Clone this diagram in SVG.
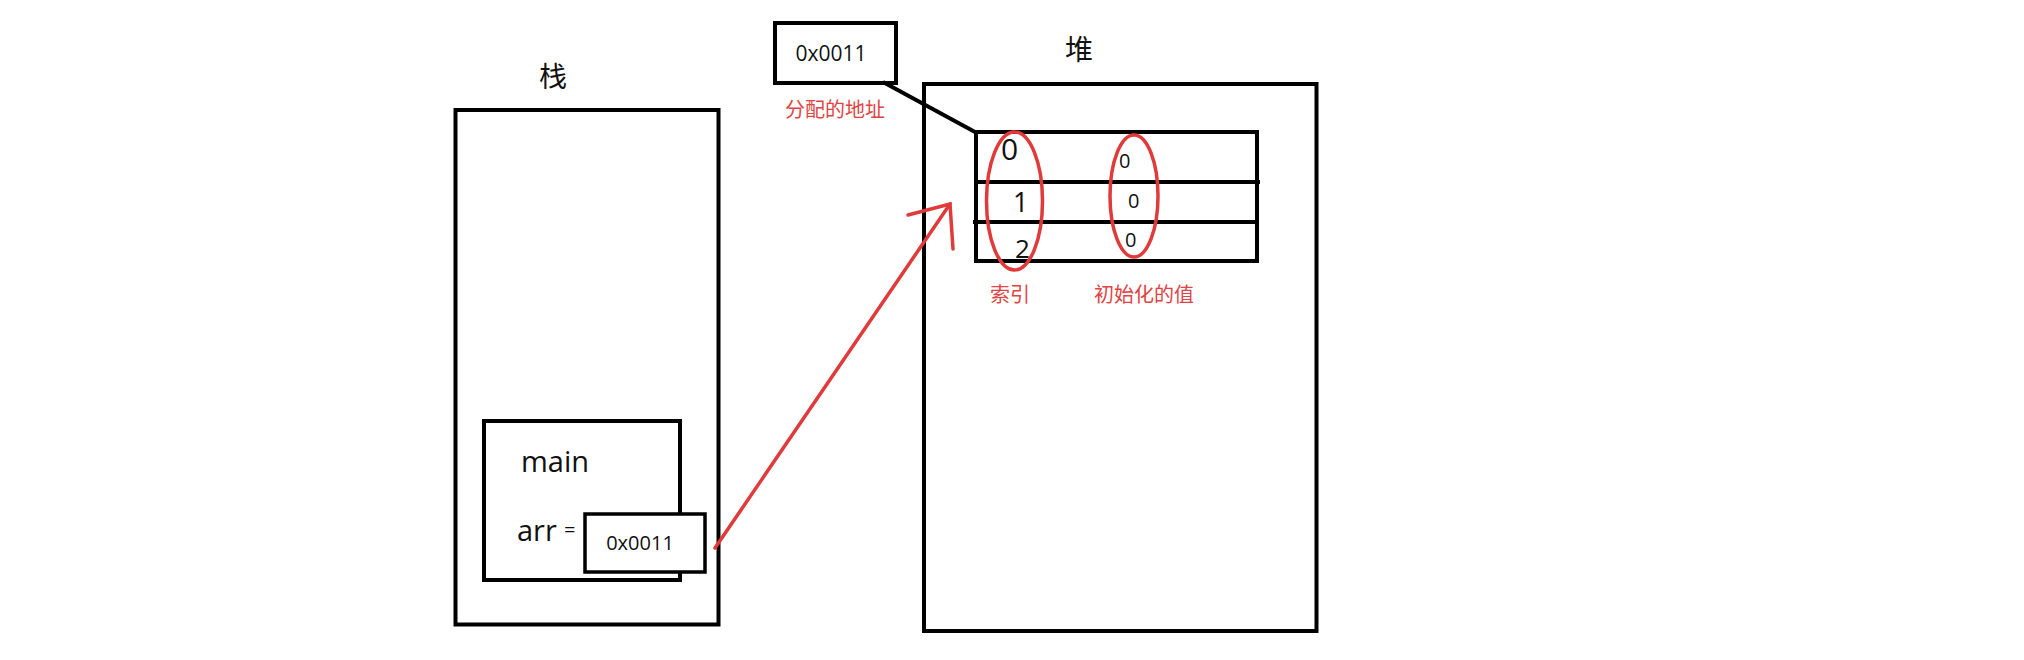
<svg xmlns="http://www.w3.org/2000/svg" width="2024" height="660" viewBox="0 0 2024 660">
<style>
.box{fill:none;stroke:#000;stroke-width:4}
.wbox{fill:#fff;stroke:#000;stroke-width:3.5}
.t{font-family:"Open Sans","Noto Sans",sans-serif;fill:#111}
.cjk{font-family:"Noto Sans CJK SC","Microsoft YaHei",sans-serif;fill:#111}
.red{font-family:"Noto Sans CJK SC",sans-serif;fill:#e04444}
.rs{fill:none;stroke:#e03a3a;stroke-width:3.5;stroke-linecap:round}
</style>
<rect width="2024" height="660" fill="#fff"/>
<g id="stack">
<rect class="box" x="455.5" y="110" width="263" height="514.5"/>
<text class="cjk" x="553" y="87" font-size="28" text-anchor="middle">栈</text>
</g>
<g id="main">
<rect class="box" x="484" y="421" width="196" height="159"/>
<text class="t" x="521" y="472" font-size="29">main</text>
<text class="t" x="517" y="541" font-size="29">arr</text>
<text class="t" x="564" y="537" font-size="20">=</text>
</g>
<g id="arr-value">
<rect class="wbox" x="585" y="514" width="120" height="58"/>
<text class="t" x="640" y="550" font-size="20" text-anchor="middle">0x0011</text>
</g>
<g id="heap">
<rect class="box" x="924" y="84" width="392.5" height="547"/>
<text class="cjk" x="1079" y="60" font-size="28" text-anchor="middle">堆</text>
</g>
<g id="address">
<rect class="box" x="775" y="23" width="121" height="60"/>
<text class="t" x="831" y="61" font-size="21" text-anchor="middle">0x0011</text>
<text class="red" x="835" y="117" font-size="20" text-anchor="middle">分配的地址</text>
</g>
<g id="array">
<rect class="box" x="976" y="132" width="281" height="129"/>
<line class="box" x1="976" y1="182" x2="1260" y2="182"/>
<line class="box" x1="973" y1="222" x2="1257" y2="222"/>
<text class="t" x="1001" y="160" font-size="30">0</text>
<text class="t" x="1013" y="212" font-size="27">1</text>
<text class="t" x="1015" y="258" font-size="26">2</text>
<text class="t" x="1119" y="168" font-size="20">0</text>
<text class="t" x="1128" y="208" font-size="20">0</text>
<text class="t" x="1125" y="247" font-size="20">0</text>
<ellipse class="rs" cx="1014.5" cy="201" rx="28" ry="69"/>
<ellipse class="rs" cx="1134" cy="196" rx="24" ry="61"/>
<text class="red" x="1010" y="302" font-size="20" text-anchor="middle">索引</text>
<text class="red" x="1144" y="302" font-size="20" text-anchor="middle">初始化的值</text>
</g>
<g id="connectors">
<line x1="883" y1="82" x2="975" y2="132" stroke="#000" stroke-width="4"/>
<polyline class="rs" points="715,548 950,204"/>
<polyline class="rs" points="908,215 950,204 953,249"/>
</g>
</svg>
